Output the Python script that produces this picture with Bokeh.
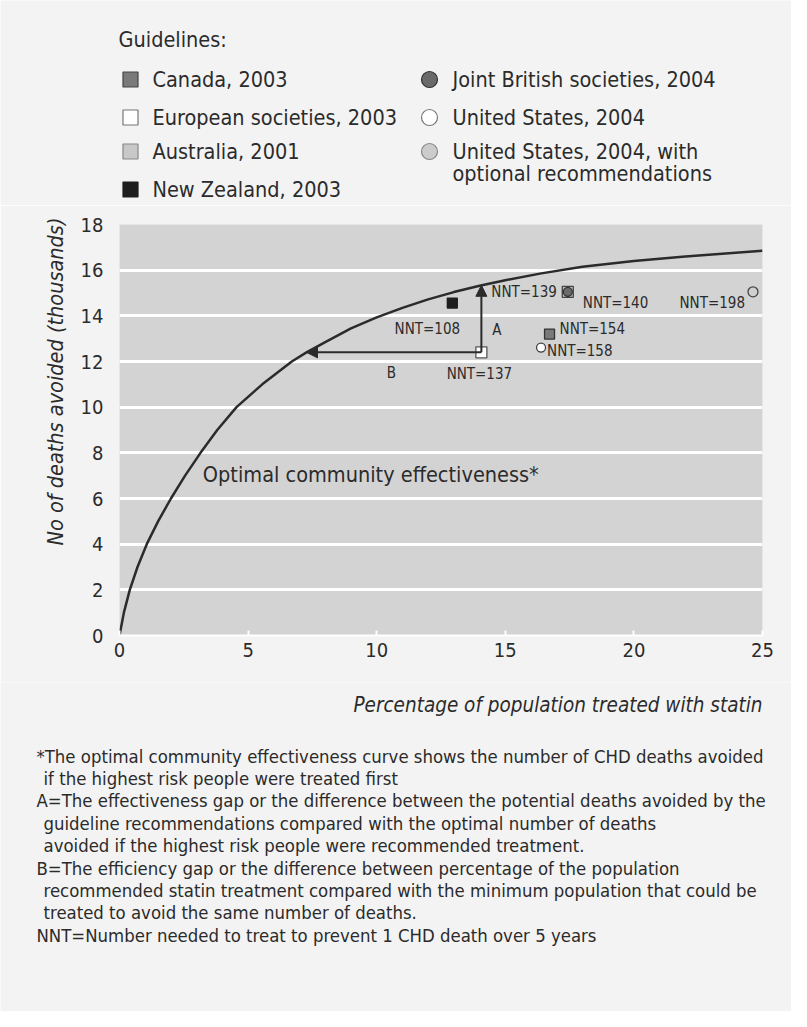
import numpy as np
from bokeh.plotting import figure
from bokeh.models import (ColumnDataSource, Range1d, FixedTicker, Label, Arrow,
                          NormalHead, Title)
from bokeh.embed import file_html
from bokeh.resources import INLINE
from bokeh.core.properties import value

FONT = "'DejaVu Sans Condensed', 'Liberation Sans', sans-serif"
BG = "#f3f3f3"
PANEL = "#d3d3d3"
INK = "#2b2b2b"

# ---------------- data ----------------
curve_x = [0, 0.17, 0.4, 0.7, 1.06, 1.5, 2.0, 2.55, 3.15, 3.8, 4.55, 5.55, 6.7, 7.27,
           8, 9, 10, 11, 12, 13, 14, 15, 16.4, 18, 20, 22, 25]
curve_y = [0, 1, 2, 3, 4, 5, 6, 7, 8, 9, 10, 11, 12, 12.4,
           12.85, 13.45, 13.93, 14.35, 14.72, 15.04, 15.32, 15.56, 15.86, 16.15, 16.4,
           16.6, 16.85]

guidelines = ["New Zealand, 2003", "European societies, 2003", "Australia, 2001",
              "Joint British societies, 2004", "Canada, 2003", "United States, 2004",
              "United States, 2004, with optional recommendations"]
pct_treated = [12.94, 14.07, 17.43, 17.43, 16.72, 16.39, 24.63]
deaths_avoided = [14.56, 12.4, 15.05, 15.05, 13.2, 12.61, 15.05]
nnt = ["NNT=108", "NNT=137", "NNT=139", "NNT=140", "NNT=154", "NNT=158", "NNT=198"]

x_ticks = [0, 5, 10, 15, 20, 25]
y_ticks = [0, 2, 4, 6, 8, 10, 12, 14, 16, 18]

legend_left = ["Canada, 2003", "European societies, 2003", "Australia, 2001", "New Zealand, 2003"]
legend_right = ["Joint British societies, 2004", "United States, 2004",
                "United States, 2004, with", "optional recommendations"]

footnotes = [
    "*The optimal community effectiveness curve shows the number of CHD deaths avoided",
    "if the highest risk people were treated first",
    "A=The effectiveness gap or the difference between the potential deaths avoided by the",
    "guideline recommendations compared with the optimal number of deaths",
    "avoided if the highest risk people were recommended treatment.",
    "B=The efficiency gap or the difference between percentage of the population",
    "recommended statin treatment compared with the minimum population that could be",
    "treated to avoid the same number of deaths.",
    "NNT=Number needed to treat to prevent 1 CHD death over 5 years",
]

# ---------------- styles (per guideline, same order as data) ----------------
g_marker = ["square", "square", "square", "circle", "square", "circle", "circle"]
g_fill = ["#1e1e1e", "#ffffff", "#c4c4c4", "#6a6a6a", "#7a7a7a", "#ffffff", "#d0d0d0"]
g_line = ["#1e1e1e", "#555555", "#444444", "#333333", "#333333", "#444444", "#444444"]
g_size = [10, 11, 11, 9, 10, 9, 10]
lab_dx = [-25, -2, -11, 15, 10, 6, -8]
lab_dy = [26, 22, 0, 11, -5, 3, 11]
lab_align = ["center", "center", "right", "left", "left", "left", "right"]

W = 791


def blank(height, y0, y1):
    f = figure(width=W, height=height, x_range=Range1d(8, 8 + W), y_range=Range1d(y1, y0),
               output_backend="svg", toolbar_location=None, x_axis_location=None,
               y_axis_location=None, min_border=0, outline_line_color=None,
               background_fill_color=BG, border_fill_color=BG)
    f.grid.visible = False
    return f


# ---------------- legend block ----------------
pl = blank(205, 8, 213)
pl.text(x=[126], y=[47], text=["Guidelines:"], text_font=value(FONT),
        text_font_size="21.5px", text_color=INK, text_baseline="middle")
left_y = [87, 125, 159, 197]
pl.scatter(x=[138] * 4, y=left_y, marker="square", size=15,
           fill_color=["#7a7a7a", "#ffffff", "#c8c8c8", "#1e1e1e"],
           line_color=["#444444", "#777777", "#888888", "#1e1e1e"], line_width=1.2)
pl.text(x=[160] * 4, y=left_y, text=legend_left, text_font=value(FONT),
        text_font_size="21.5px", text_color=INK, text_baseline="middle")
right_y = [87, 125, 159]
pl.scatter(x=[437] * 3, y=right_y, marker="circle", size=16,
           fill_color=["#6a6a6a", "#ffffff", "#cccccc"],
           line_color=["#333333", "#777777", "#888888"], line_width=1.2)
pl.text(x=[460] * 4, y=right_y + [181], text=legend_right, text_font=value(FONT),
        text_font_size="21.5px", text_color=INK, text_baseline="middle")

# ---------------- main chart ----------------
p = figure(width=W, height=477, x_range=Range1d(0, 25), y_range=Range1d(0, 18),
           output_backend="svg", toolbar_location=None,
           min_border_left=119, min_border_right=29, min_border_top=19,
           min_border_bottom=47, outline_line_color=None,
           background_fill_color=PANEL, border_fill_color=BG)
p.xgrid.visible = False
p.ygrid.ticker = FixedTicker(ticks=y_ticks)
p.ygrid.grid_line_color = "white"
p.ygrid.grid_line_width = 3
p.xaxis.ticker = FixedTicker(ticks=x_ticks)
p.yaxis.ticker = FixedTicker(ticks=y_ticks)
for ax in (p.xaxis, p.yaxis):
    ax.major_label_text_font = FONT
    ax.major_label_text_font_size = "20px"
    ax.major_label_text_color = INK
    ax.minor_tick_line_color = None
p.yaxis.axis_line_color = None
p.yaxis.major_tick_line_color = None
p.yaxis.major_label_standoff = 10
p.xaxis.axis_line_color = "white"
p.xaxis.axis_line_width = 2
p.xaxis.major_tick_line_color = "white"
p.xaxis.major_tick_line_width = 2
p.xaxis.major_tick_in = 5
p.xaxis.major_tick_out = 0
p.xaxis.major_label_standoff = 7

p.add_layout(Title(text="No of deaths avoided (thousands)", align="right", offset=-7,
                   text_font=FONT, text_font_size="21.5px", text_font_style="italic",
                   text_color=INK, standoff=20), "left")

p.line(curve_x, curve_y, line_color=INK, line_width=2.5)

eu_x, eu_y = pct_treated[1], deaths_avoided[1]
a_end = float(np.interp(eu_x, curve_x, curve_y))
b_end = float(np.interp(eu_y, curve_y, curve_x))
p.add_layout(Arrow(end=NormalHead(size=11, fill_color=INK, line_color=INK),
                   x_start=eu_x, y_start=eu_y, x_end=eu_x, y_end=a_end,
                   line_color=INK, line_width=2))
p.add_layout(Arrow(end=NormalHead(size=11, fill_color=INK, line_color=INK),
                   x_start=eu_x, y_start=eu_y, x_end=b_end, y_end=eu_y,
                   line_color=INK, line_width=2))

src = ColumnDataSource(dict(x=pct_treated, y=deaths_avoided, nnt=nnt, marker=g_marker,
                            fill=g_fill, line=g_line, size=g_size, dx=lab_dx,
                            dy=lab_dy, align=lab_align))
p.scatter(x="x", y="y", marker="marker", size="size", fill_color="fill",
          line_color="line", line_width=1.3, source=src)
p.text(x="x", y="y", text="nnt", x_offset="dx", y_offset="dy", text_align="align",
       text_baseline="middle", text_font=value(FONT), text_font_size="15px",
       text_color=INK, source=src)

p.add_layout(Label(x=eu_x + 0.6, y=(eu_y + a_end) / 2 - 0.5, text="A",
                   text_font=FONT, text_font_size="15px", text_color=INK,
                   text_align="center", text_baseline="middle"))
p.add_layout(Label(x=(eu_x + b_end) / 2 - 0.1, y=eu_y - 0.9, text="B",
                   text_font=FONT, text_font_size="15px", text_color=INK,
                   text_align="center", text_baseline="middle"))
p.add_layout(Label(x=3.24, y=7.05, text="Optimal community effectiveness*",
                   text_font=FONT, text_font_size="21.5px", text_color=INK,
                   text_align="left", text_baseline="middle"))

# ---------------- x title + footnotes ----------------
pf = blank(329, 690, 1019)
pf.text(x=[770], y=[712], text=["Percentage of population treated with statin"],
        text_font=value(FONT), text_font_size="20.5px", text_font_style="italic",
        text_color=INK, text_align="right", text_baseline="middle")
foot_y = [764, 786, 808, 831, 853, 876, 898, 920, 943]
foot_x = [44, 51, 44, 51, 51, 44, 51, 51, 44]
pf.text(x=foot_x, y=foot_y, text=footnotes, text_font=value(FONT), text_font_size="18.4px",
        text_color=INK, text_baseline="middle")

open("out.html", "w").write(file_html([pl, p, pf], INLINE))
